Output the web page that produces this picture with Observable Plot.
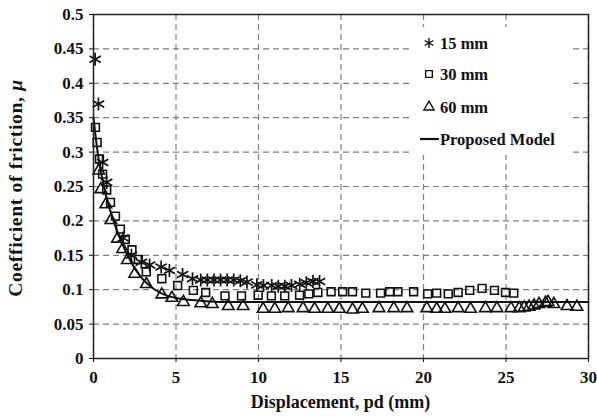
<!DOCTYPE html>
<html><head><meta charset="utf-8">
<script src="https://cdn.jsdelivr.net/npm/d3@7"></script>
<script src="https://cdn.jsdelivr.net/npm/@observablehq/plot@0.6"></script>
<style>body{margin:0;background:#fff} #chart{position:relative;width:597px;height:418px}</style>
</head><body><div id="chart"></div>
<script>
// Tick values
const xTicks = [0, 5, 10, 15, 20, 25, 30];
const yTicks = [0, 0.05, 0.1, 0.15, 0.2, 0.25, 0.3, 0.35, 0.4, 0.45, 0.5];

// Series names
const seriesNames = ["15 mm", "30 mm", "60 mm", "Proposed Model"];

// 15 mm
const x15 = [0.1, 0.3, 0.55, 0.8, 1.8, 2.3, 2.9, 3.4, 4.1, 4.6, 5.4, 6.0, 6.5, 6.9, 7.3, 7.7, 8.1, 8.5, 8.9, 9.3, 9.9, 10.3, 10.8, 11.2, 11.6, 12.0, 12.5, 12.9, 13.3, 13.7];
const mu15 = [0.435, 0.37, 0.285, 0.256, 0.175, 0.15, 0.14, 0.136, 0.133, 0.128, 0.122, 0.116, 0.114, 0.114, 0.114, 0.114, 0.114, 0.114, 0.113, 0.111, 0.107, 0.106, 0.106, 0.105, 0.105, 0.106, 0.108, 0.11, 0.112, 0.112];

// 30 mm
const x30 = [0.12, 0.22, 0.36, 0.55, 0.8, 1.03, 1.33, 1.63, 1.93, 2.33, 2.72, 3.2, 4.14, 5.1, 6.05, 6.8, 7.97, 8.97, 9.98, 10.78, 11.59, 12.49, 13.05, 13.6, 14.4, 15.1, 15.7, 16.5, 17.4, 17.95, 18.45, 19.4, 20.25, 20.8, 21.5, 22.1, 22.8, 23.55, 24.3, 24.97, 25.47];
const mu30 = [0.336, 0.314, 0.29, 0.268, 0.245, 0.227, 0.207, 0.188, 0.173, 0.158, 0.144, 0.126, 0.116, 0.106, 0.099, 0.096, 0.091, 0.091, 0.092, 0.091, 0.091, 0.092, 0.094, 0.096, 0.097, 0.097, 0.097, 0.095, 0.095, 0.097, 0.097, 0.097, 0.094, 0.095, 0.094, 0.096, 0.099, 0.102, 0.099, 0.096, 0.095];

// 60 mm
const x60 = [0.32, 0.45, 0.75, 1.05, 1.45, 1.77, 2.05, 2.5, 3.2, 4.14, 4.75, 5.45, 6.5, 7.2, 8.17, 9.07, 10.28, 10.99, 11.8, 12.7, 13.4, 14.2, 14.9, 15.7, 16.3, 17.3, 18.2, 19.0, 20.2, 20.8, 21.3, 22.1, 22.85, 23.75, 24.45, 25.3, 25.8, 26.1, 26.4, 26.7, 27.0, 27.4, 27.55, 27.9, 28.7, 29.3];
const mu60 = [0.273, 0.246, 0.224, 0.201, 0.174, 0.159, 0.143, 0.123, 0.108, 0.093, 0.088, 0.082, 0.08, 0.079, 0.076, 0.076, 0.072, 0.072, 0.073, 0.073, 0.072, 0.072, 0.072, 0.071, 0.072, 0.073, 0.073, 0.073, 0.073, 0.072, 0.072, 0.073, 0.072, 0.073, 0.073, 0.073, 0.073, 0.074, 0.075, 0.077, 0.079, 0.081, 0.082, 0.079, 0.076, 0.075];

// Proposed model
const xModel = [0, 0.25, 0.5, 0.75, 1, 1.5, 2, 2.5, 3, 3.5, 4, 4.5, 5, 6, 7, 8, 10, 15, 20, 25, 30];
const muModel = [0.35, 0.3, 0.265, 0.238, 0.216, 0.181, 0.153, 0.131, 0.115, 0.104, 0.096, 0.091, 0.088, 0.085, 0.083, 0.082, 0.082, 0.082, 0.082, 0.082, 0.082];

const zip = (xs, ys) => xs.map((x, i) => ({x, mu: ys[i]}));
const s15 = zip(x15, mu15), s30 = zip(x30, mu30), s60 = zip(x60, mu60), model = zip(xModel, muModel);

const FONT = "'Liberation Serif', 'Times New Roman', serif";
const ink = "#111";

const chart = Plot.plot({
  width: 597, height: 418,
  marginLeft: 93, marginRight: 9, marginTop: 14, marginBottom: 60,
  style: {fontFamily: FONT, fontSize: "16px", fontWeight: "bold", color: ink, background: "#fff"},
  x: {domain: [0, 30], ticks: xTicks},
  y: {domain: [0, 0.5], ticks: yTicks},
  marks: [
    Plot.gridX(xTicks, {stroke: "#808080", strokeOpacity: 1, strokeDasharray: "6,4", strokeWidth: 1.2}),
    Plot.gridY(yTicks, {stroke: "#808080", strokeOpacity: 1, strokeDasharray: "6,4", strokeWidth: 1.2}),
    Plot.axisX(xTicks, {tickSize: 4, tickPadding: 8, label: null, fontSize: 17, tickFormat: d => String(d)}),
    Plot.axisY(yTicks, {tickSize: 4, tickPadding: 6, label: null, fontSize: 17, tickFormat: d => String(+d.toFixed(2))}),
    Plot.line(model, {x: "x", y: "mu", stroke: ink, strokeWidth: 2, curve: "monotone-x"}),
    Plot.dot(s60, {x: "x", y: "mu", symbol: "triangle", r: 4.3, stroke: ink, strokeWidth: 1.6, fill: "none"}),
    Plot.dot(s30, {x: "x", y: "mu", symbol: "square", r: 4.4, stroke: ink, strokeWidth: 1.6, fill: "none"}),
    Plot.dot(s15, {x: "x", y: "mu", symbol: "asterisk", r: 6.2, stroke: ink, strokeWidth: 1.7, fill: "none"}),
    Plot.frame({stroke: "#222", strokeWidth: 1.5})
  ]
});
document.getElementById("chart").appendChild(chart);

// Axis labels and legend
const svg = d3.select(chart);
svg.append("text")
  .attr("x", 93 + 495 / 2).attr("y", 408)
  .attr("text-anchor", "middle").attr("font-family", FONT).attr("font-size", 18).attr("font-weight", "bold").attr("fill", ink)
  .text("Displacement, pd (mm)");
const yl = svg.append("text")
  .attr("transform", "translate(22,188) rotate(-90)")
  .attr("text-anchor", "middle").attr("font-family", FONT).attr("font-size", 19.5).attr("letter-spacing", 0.7).attr("font-weight", "bold").attr("fill", ink);
yl.append("tspan").text("Coefficient of friction, ");
yl.append("tspan").attr("font-style", "italic").text("μ");

const lg = svg.append("g");
lg.append("rect").attr("x", 412).attr("y", 27).attr("width", 160).attr("height", 128).attr("fill", "#fff");
const rows = [44, 75, 108, 140];
const syms = [d3.symbolAsterisk, d3.symbolSquare, d3.symbolTriangle];
[0, 1, 2].forEach(i => {
  lg.append("path").attr("d", d3.symbol(syms[i], i === 0 ? 70 : 45)())
    .attr("transform", `translate(429,${rows[i] - 1})`)
    .attr("fill", "none").attr("stroke", ink).attr("stroke-width", 1.4);
});
lg.append("line").attr("x1", 420).attr("x2", 439).attr("y1", rows[3] - 1).attr("y2", rows[3] - 1).attr("stroke", ink).attr("stroke-width", 2.2);
seriesNames.forEach((n, i) => {
  lg.append("text").attr("x", 440).attr("y", rows[i] + 5).attr("text-anchor", "start")
    .attr("font-family", FONT).attr("font-size", 16.5).attr("font-weight", "bold").attr("fill", ink).text(n);
});
</script>
</body></html>
